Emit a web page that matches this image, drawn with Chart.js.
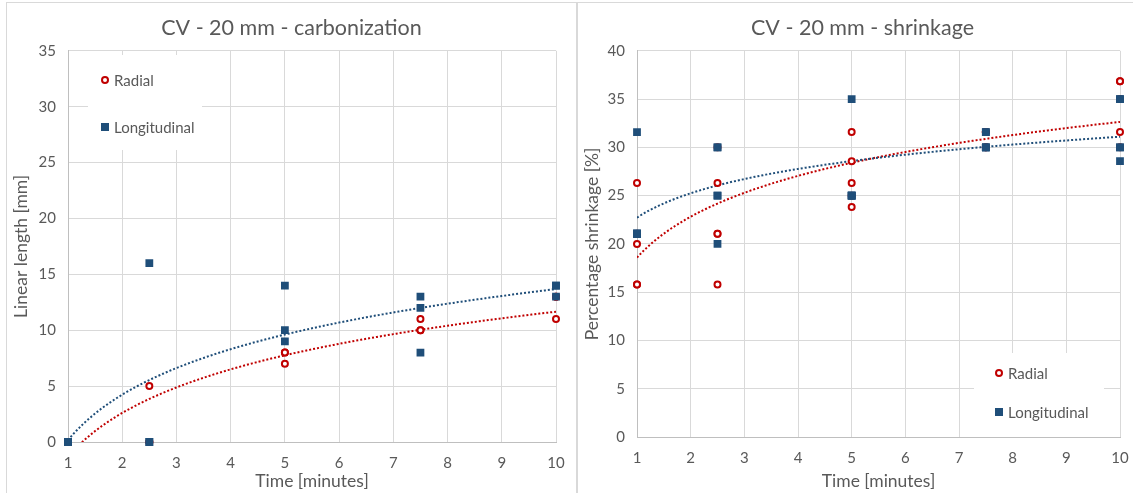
<!DOCTYPE html>
<html>
<head>
<meta charset="utf-8">
<script src="https://cdn.jsdelivr.net/npm/chart.js@4/dist/chart.umd.min.js"></script>
<style>
  body { margin: 0; background: #fff; width: 1133px; height: 493px; overflow: hidden; position: relative; }
  .frame { position: absolute; top: 2px; width: 571px; height: 510px; border: 1px solid #d9d9d9; box-sizing: border-box; }
  .box { position: absolute; top: 3px; width: 569px; height: 490px; }
</style>
</head>
<body>
<div class="frame" style="left:6px"></div>
<div class="frame" style="left:577px"></div>
<div class="box" style="left:7px"><canvas id="carb"></canvas></div>
<div class="box" style="left:578px"><canvas id="shrink"></canvas></div>
<script>
// carbonization: 3 samples per time step
const carbTime = [1, 1, 1, 2.5, 2.5, 2.5, 5, 5, 5, 7.5, 7.5, 7.5, 10, 10, 10];
const carbRadial = [0, 0, 0, 5, 0, 0, 8, 8, 7, 11, 10, 10, 13, 13, 11];
const carbLongitudinal = [0, 0, 0, 16, 0, 0, 14, 10, 9, 13, 12, 8, 14, 14, 13];

// shrinkage: 5 samples per time step
const shrinkTime = [1, 1, 1, 1, 1, 2.5, 2.5, 2.5, 2.5, 2.5, 5, 5, 5, 5, 5, 7.5, 7.5, 7.5, 7.5, 7.5, 10, 10, 10, 10, 10];
const shrinkRadial = [26.32, 21.05, 20, 15.79, 15.79, 30, 26.32, 21.05, 21.05, 15.79, 31.58, 28.57, 26.32, 25, 23.81,
  31.58, 31.58, 31.58, 30, 30, 36.84, 36.84, 35, 31.58, 30];
const shrinkLongitudinal = [31.58, 21.05, 21.05, 21.05, 21.05, 30, 30, 25, 25, 20, 35, 25, 25, 25, 25,
  31.58, 31.58, 30, 30, 30, 35, 35, 30, 30, 28.57];

const timeTicks = [1, 2, 3, 4, 5, 6, 7, 8, 9, 10];
const seriesNames = ['Radial', 'Longitudinal'];

const RED = '#c00000';
const BLUE = '#1f4e79';
const TXT = '#595959';
const FONT = 'Lato, "Open Sans", sans-serif';

function points(xs, ys) {
  return xs.map((x, i) => ({ x: x, y: ys[i] }));
}

// logarithmic least-squares trendline, like the spreadsheet one
function logTrend(xs, ys) {
  const n = xs.length;
  const L = xs.map(Math.log);
  const sl = L.reduce((a, b) => a + b, 0);
  const sy = ys.reduce((a, b) => a + b, 0);
  const sll = L.reduce((a, b) => a + b * b, 0);
  const sly = L.reduce((a, l, i) => a + l * ys[i], 0);
  const a = (n * sly - sl * sy) / (n * sll - sl * sl);
  const b = (sy - a * sl) / n;
  const out = [];
  for (let x = 1; x <= 10.0001; x += 0.05) out.push({ x: x, y: a * Math.log(x) + b });
  return out;
}

const boxLegend = {
  id: 'boxLegend',
  beforeDatasetsDraw(chart, args, opts) {
    const ctx = chart.ctx;
    ctx.save();
    ctx.fillStyle = '#fff';
    ctx.fillRect(opts.x, opts.y, opts.w, opts.h);
    ctx.font = '15px ' + FONT;
    ctx.textBaseline = 'middle';
    seriesNames.forEach((name, i) => {
      const mx = opts.mx, my = opts.my[i];
      if (i === 0) {
        ctx.beginPath();
        ctx.arc(mx, my, 3, 0, Math.PI * 2);
        ctx.fillStyle = '#fff';
        ctx.fill();
        ctx.lineWidth = 2;
        ctx.strokeStyle = RED;
        ctx.stroke();
      } else {
        ctx.fillStyle = BLUE;
        ctx.fillRect(mx - 4, my - 4, 8, 8);
      }
      ctx.fillStyle = TXT;
      ctx.fillText(name, mx + 9, my + 1);
    });
    ctx.restore();
  }
};

function makeChart(id, title, yTitle, yMax, xs, radial, longi, yAxisW, xAxisH, padRight, legendOpts) {
  return new Chart(document.getElementById(id), {
    type: 'scatter',
    data: {
      datasets: [
        { label: seriesNames[0], data: points(xs, radial), order: 2, clip: 8,
          pointStyle: 'circle', pointRadius: 3, pointBorderWidth: 2,
          pointBorderColor: RED, pointBackgroundColor: '#fff' },
        { label: seriesNames[1], data: points(xs, longi), order: 1, clip: 8,
          pointStyle: 'rect', pointRadius: 5.5, pointBorderWidth: 0,
          pointBorderColor: BLUE, pointBackgroundColor: BLUE },
        { label: 'trend r', data: logTrend(xs, radial), order: 4, showLine: true,
          pointRadius: 0, borderColor: RED, borderWidth: 2, borderDash: [2, 2] },
        { label: 'trend l', data: logTrend(xs, longi), order: 3, showLine: true,
          pointRadius: 0, borderColor: BLUE, borderWidth: 2, borderDash: [2, 2] }
      ]
    },
    options: {
      responsive: true,
      maintainAspectRatio: false,
      animation: false,
      layout: { padding: 0 },
      plugins: {
        legend: { display: false },
        tooltip: { enabled: false },
        title: {
          display: true, text: title, color: TXT,
          font: { family: FONT, size: 21.5, weight: 'normal' },
          padding: { top: 12, bottom: 10 }
        },
        boxLegend: legendOpts
      },
      scales: {
        x: {
          type: 'linear', min: 1, max: 10,
          afterBuildTicks: s => { s.ticks = timeTicks.map(v => ({ value: v })); },
          afterFit: s => { s.height = xAxisH; s.paddingRight = padRight; },
          grid: { color: '#d9d9d9', drawTicks: false },
          border: { color: '#bfbfbf' },
          ticks: { color: TXT, font: { family: FONT, size: 15 }, padding: 12 },
          title: { display: true, text: 'Time [minutes]', color: TXT,
            font: { family: FONT, size: 17.5 }, padding: { top: 0, bottom: 1 } }
        },
        y: {
          min: 0, max: yMax,
          afterFit: s => { s.width = yAxisW; },
          grid: { color: '#d9d9d9', drawTicks: false },
          border: { color: '#bfbfbf' },
          ticks: { stepSize: 5, color: TXT, font: { family: FONT, size: 15 }, padding: 12 },
          title: { display: true, text: yTitle, color: TXT,
            font: { family: FONT, size: 17.5 }, padding: { top: 4, bottom: 0 } }
        }
      }
    },
    plugins: [boxLegend]
  });
}

makeChart('carb', 'CV - 20 mm - carbonization', 'Linear length [mm]', 35,
  carbTime, carbRadial, carbLongitudinal, 61, 51, 20,
  { x: 81, y: 52, w: 114, h: 95, mx: 98, my: [77, 124] });

makeChart('shrink', 'CV - 20 mm - shrinkage', 'Percentage shrinkage [%]', 40,
  shrinkTime, shrinkRadial, shrinkLongitudinal, 59, 56, 27,
  { x: 396, y: 350, w: 130, h: 84, mx: 421, my: [370, 409] });
</script>
</body>
</html>
